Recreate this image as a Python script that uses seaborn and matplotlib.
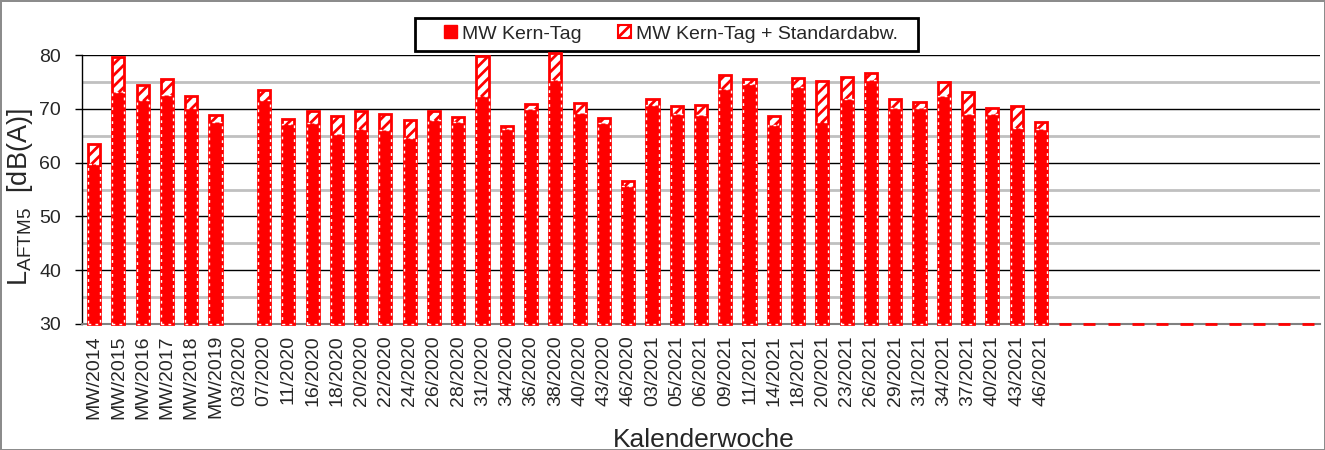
import matplotlib.pyplot as plt
import numpy as np
import pandas as pd
import seaborn as sns
from matplotlib.patches import Patch, Rectangle

# Kalenderwochen (x-axis)
weeks = ['MW/2014', 'MW/2015', 'MW/2016', 'MW/2017', 'MW/2018', 'MW/2019',
         '03/2020', '07/2020', '11/2020', '16/2020', '18/2020', '20/2020',
         '22/2020', '24/2020', '26/2020', '28/2020', '31/2020', '34/2020',
         '36/2020', '38/2020', '40/2020', '43/2020', '46/2020', '03/2021',
         '05/2021', '06/2021', '09/2021', '11/2021', '14/2021', '18/2021',
         '20/2021', '23/2021', '26/2021', '29/2021', '31/2021', '34/2021',
         '37/2021', '40/2021', '43/2021', '46/2021']

# MW Kern-Tag (mean) in dB(A)
mean_day = [59.7, 73.2, 71.6, 72.6, 70.1, 67.6,
            np.nan, 71.6, 67.1, 67.3, 65.3, 66.2,
            66.1, 64.5, 67.9, 67.6, 72.4, 66.2,
            70.0, 75.4, 69.3, 67.3, 55.7, 70.7,
            69.0, 68.8, 73.6, 74.7, 67.0, 74.1,
            67.6, 71.8, 75.4, 70.1, 70.1, 72.4,
            69.0, 69.0, 66.4, 66.2]

# MW Kern-Tag + Standardabw. in dB(A)
mean_plus_std = [63.4, 79.6, 74.4, 75.5, 72.4, 68.8,
                 np.nan, 73.5, 68.1, 69.6, 68.6, 69.5,
                 69.0, 68.0, 69.6, 68.5, 79.9, 66.8,
                 70.8, 80.4, 71.1, 68.2, 56.6, 71.8,
                 70.5, 70.7, 76.3, 75.5, 68.7, 75.7,
                 75.2, 76.0, 76.7, 71.9, 71.3, 75.0,
                 73.1, 70.1, 70.6, 67.5]

# empty weeks at the end (no data yet, drawn at 30 dB)
n_empty = 11
base = 30

sns.set_style('white')
plt.rcParams['font.family'] = ['Liberation Sans', 'DejaVu Sans']
plt.rcParams['hatch.linewidth'] = 2.0

keys = weeks + [f'leer{i}' for i in range(n_empty)]
df = pd.DataFrame({
    'Woche': keys,
    'std_h': [v - base for v in mean_plus_std] + [0.0] * n_empty,
    'mean_h': [v - base for v in mean_day] + [np.nan] * n_empty,
})

fig = plt.figure(figsize=(13.25, 4.5), dpi=100)
fig.patch.set_edgecolor('#8c8c8c')
fig.patch.set_linewidth(2)
ax = fig.add_axes([82 / 1325, 1 - 324 / 450, 1238 / 1325, 269 / 450])

red = '#ff0000'
# hatched part: mean + std
sns.barplot(data=df, x='Woche', y='std_h', order=keys, ax=ax, errorbar=None,
            width=0.5, bottom=base, color='white', edgecolor=red,
            linewidth=2, hatch='///', clip_on=False, zorder=3)
# solid part: mean
sns.barplot(data=df, x='Woche', y='mean_h', order=keys, ax=ax, errorbar=None,
            width=0.5, bottom=base, color=red, saturation=1, edgecolor=red,
            linewidth=1.5, clip_on=False, zorder=4)
# white dash pattern along the solid bars' edges
for p in ax.containers[1]:
    p.set_edgecolor('white')
    p.set_linestyle((0, (2, 3)))
    p.set_linewidth(1)

ax.set_ylim(30, 80)
ax.set_xlim(-0.5, len(keys) - 0.5)
ax.set_yticks(np.arange(30, 81, 10))
ax.set_yticks(np.arange(35, 80, 10), minor=True)
ax.yaxis.grid(True, which='major', color='black', linewidth=1)
ax.yaxis.grid(True, which='minor', color='#c0c0c0', linewidth=2)
ax.set_axisbelow(True)

ax.set_xticks(range(len(keys)))
ax.set_xticklabels(weeks + [''] * n_empty, rotation=90, fontsize=14)
ax.set_xticks(np.arange(-0.5, len(keys)), minor=True)
ax.tick_params(axis='x', which='major', length=0, pad=8)
ax.tick_params(axis='x', which='minor', length=5, color='#555555', width=1)
ax.tick_params(axis='y', which='major', length=5, width=1, labelsize=14,
               color='black', left=True, pad=10)
ax.tick_params(axis='y', which='minor', length=0)

for s in ['top', 'right']:
    ax.spines[s].set_visible(False)
ax.spines['left'].set_color('black')
ax.spines['left'].set_linewidth(1)
ax.spines['bottom'].set_color('#808080')
ax.spines['bottom'].set_linewidth(1.5)

ax.set_xlabel('Kalenderwoche', fontsize=19)
ax.xaxis.set_label_coords(0.502, -0.385)
ax.set_ylabel(r'$\mathregular{L_{AFTM5}}$  [dB(A)]', fontsize=19.5)
ax.yaxis.set_label_coords(-0.038, 0.47)

# legend: content without frame, frame drawn as a separate box
handles = [Patch(facecolor=red, edgecolor=red, label='MW Kern-Tag'),
           Patch(facecolor='white', edgecolor=red, hatch='///', linewidth=1.5,
                 label='MW Kern-Tag + Standardabw.')]
fig.legend(handles=handles, loc='center left', ncol=2,
           bbox_to_anchor=(444 / 1325, 1 - 34 / 450),
           fontsize=14, frameon=False, handlelength=0.65, handleheight=0.65,
           handletextpad=0.25, columnspacing=1.9, borderaxespad=0, borderpad=0)
fig.patches.append(Rectangle((415 / 1325, 1 - 51 / 450), 503 / 1325, 33 / 450,
                             transform=fig.transFigure, facecolor='white',
                             edgecolor='black', linewidth=2, zorder=-1))

fig.savefig('out.png', dpi=100)
